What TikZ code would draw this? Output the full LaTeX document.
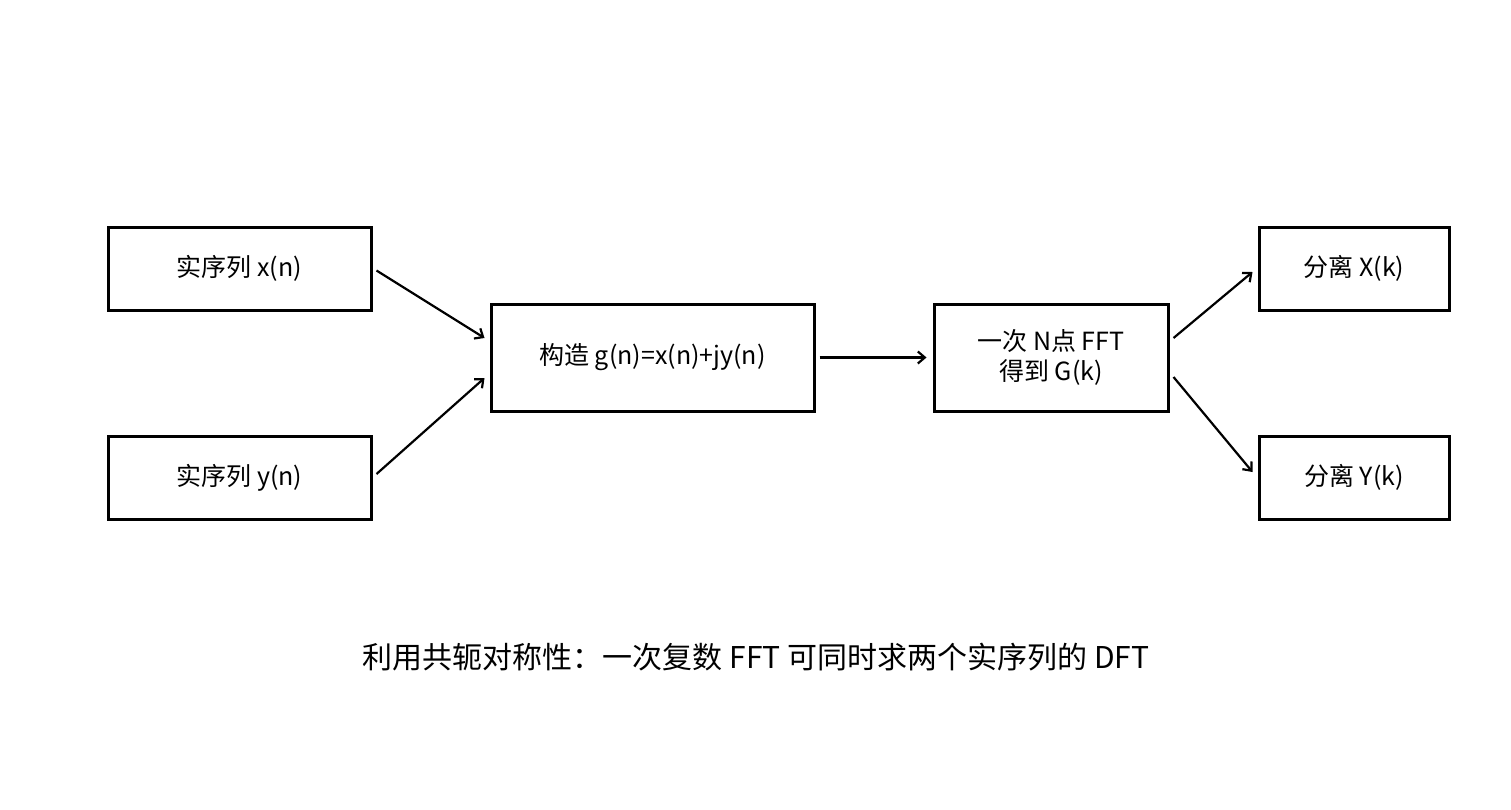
\documentclass[tikz,border=0pt]{standalone}
\usepackage{fontspec}
\setmainfont{Noto Sans CJK SC}
\usetikzlibrary{positioning, calc, arrows.meta}

\begin{document}
\begin{tikzpicture}[
  x=1pt, y=-1pt,
  every node/.style={font=\fontsize{25}{30}\selectfont},
  blk/.style={draw=black, line width=3pt, align=center, inner sep=0pt},
  arr/.style={draw=black, line width=2.2pt, -{Straight Barb[length=7pt, width=12pt, line width=2.2pt]}},
]
\useasboundingbox (0,0) rectangle (1511,809);

% Input sequences
\node[blk, minimum width=263pt, minimum height=83pt] (xn) at (239.5,268.5) {实序列 x(n)};
\node[blk, minimum width=263pt, minimum height=83pt] (yn) at (239.5,477.5) {实序列 y(n)};

% Complex sequence and FFT
\node[blk, minimum width=323pt, minimum height=107pt] (gn) at (652.5,357.5) {构造 g(n)=x(n)+jy(n)};
\node[blk, minimum width=234pt, minimum height=107pt] (fft) at (1051,357.5) {一次 N点 FFT\\得到 G(k)};

% Outputs
\node[blk, minimum width=190pt, minimum height=83pt] (Xk) at (1354,268.5) {分离 X(k)};
\node[blk, minimum width=190pt, minimum height=83pt] (Yk) at (1354,477.5) {分离 Y(k)};

% Connectors
\draw[arr] ([xshift=4pt, yshift=-2pt]xn.east) -- ([xshift=-5pt, yshift=19.5pt]gn.west);
\draw[arr] ([xshift=4pt, yshift=3.5pt]yn.east) -- ([xshift=-5pt, yshift=-20.5pt]gn.west);
\draw[arr] ([xshift=4pt]gn.east) -- ([xshift=-6pt]fft.west);
\draw[arr] ([xshift=4pt, yshift=19.5pt]fft.east) -- ([xshift=-5pt, yshift=-3.5pt]Xk.west);
\draw[arr] ([xshift=4pt, yshift=-19.5pt]fft.east) -- ([xshift=-5pt, yshift=5.5pt]Yk.west);

% Caption
\node[font=\fontsize{30}{36}\selectfont] (cap) at (756,657) {利用共轭对称性：一次复数 FFT 可同时求两个实序列的 DFT};
\end{tikzpicture}
\end{document}
